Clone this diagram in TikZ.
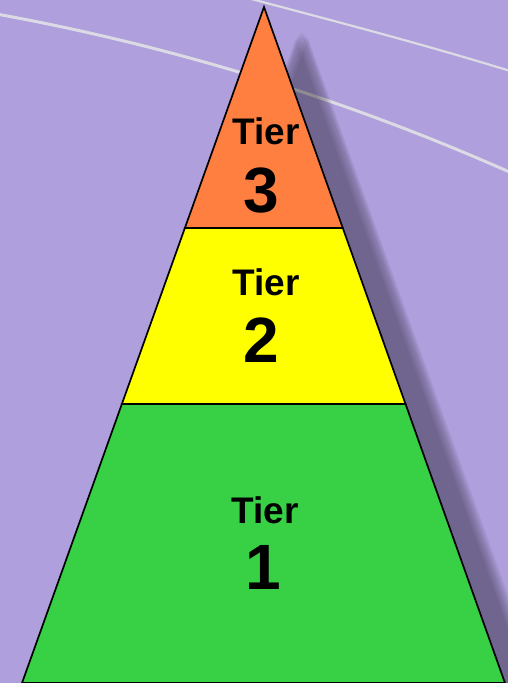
\documentclass[tikz,border=0pt]{standalone}
\usepackage{fontspec}
\setmainfont{Liberation Sans}
\usetikzlibrary{calc}
\definecolor{Lilac}{HTML}{AF9FDD}
\definecolor{Streak}{HTML}{DCDAE4}
\definecolor{TierTop}{HTML}{FF7F41}
\definecolor{TierMid}{HTML}{FFFF00}
\definecolor{TierBase}{HTML}{38D045}

\begin{document}
\begin{tikzpicture}[x=1pt,y=-1pt]
    \tikzset{
      tierfill/.style={draw=black,line width=1.7pt,line join=miter},
      tiertext/.style={anchor=base,inner sep=0pt,font=\fontsize{37}{37}\selectfont\bfseries},
      ranknum/.style={anchor=base,inner sep=0pt,font=\fontsize{64}{64}\selectfont\bfseries},
      streak/.style={draw=Streak,line width=3pt},
      dropshade/.style={fill=black,fill opacity=0.06}
    }
    \useasboundingbox (0,0) rectangle (508,683);
    \fill[Lilac] (0,0) rectangle (508,683);
    \begin{scope}
      \clip (0,0) rectangle (508,683);
      \draw[streak] (-415,2259) circle[radius=2282];
      \draw[streak,line width=2.2pt] (240,-4) .. controls (330,20) and (420,43) .. (520,74);
      % pyramid corners and tier breaks
      \coordinate (apex) at (264,7);
      \coordinate (bl) at (22,683);
      \coordinate (br) at (505,683);
      \coordinate (l3) at ($(apex)!0.3269!(bl)$);
      \coordinate (r3) at ($(apex)!0.3269!(br)$);
      \coordinate (l2) at ($(apex)!0.5873!(bl)$);
      \coordinate (r2) at ($(apex)!0.5873!(br)$);
      % soft shadow
      \foreach \k [evaluate=\k as \dx using 38+\k, evaluate=\k as \dy using 25+abs(\k)] in {-6,-4,...,6}
        \fill[dropshade] ($(apex)+(\dx,\dy)$) -- ($(br)+(\dx,26)$) -- ($(bl)+(\dx,26)$) -- cycle;
      \filldraw[tierfill,fill=TierBase] (l2) -- (r2) -- (br) -- (bl) -- cycle;
      \filldraw[tierfill,fill=TierMid] (l3) -- (r3) -- (r2) -- (l2) -- cycle;
      \filldraw[tierfill,fill=TierTop] (apex) -- (r3) -- (l3) -- cycle;
    \end{scope}
    \node[tiertext] (tier3) at (266,144) {Tier};
    \node[ranknum] (num3) at (261,212) {3};
    \node[tiertext] (tier2) at (266,295) {Tier};
    \node[ranknum] (num2) at (261,362) {2};
    \node[tiertext] (tier1) at (265,523) {Tier};
    \node[ranknum] (num1) at (263,589) {1};
  \end{tikzpicture}
\end{document}
